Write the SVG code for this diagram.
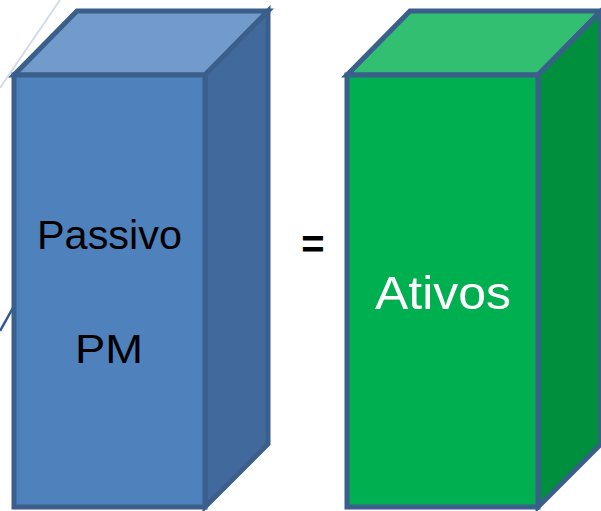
<svg xmlns="http://www.w3.org/2000/svg" width="601" height="511" viewBox="0 0 601 511">
  <style>
    .edge { stroke: #3A5F8B; stroke-width: 5; stroke-linejoin: miter; }
    .lbl { font-family: "Liberation Sans", Arial, sans-serif; text-anchor: middle; }
  </style>
  <rect width="601" height="511" fill="#FFFFFF"/>
  <g id="background">
    <line x1="0" y1="88" x2="60" y2="0" stroke="#D3DBE6" stroke-width="2"/>
    <line x1="0" y1="331" x2="14" y2="306" stroke="#2F5597" stroke-width="2.5"/>
  </g>
  <g id="passivo">
    <polygon class="edge" points="14,75 77,11 268,11 205,75" fill="#729ACA"/>
    <polygon class="edge" points="205,75 268,11 268,444 205,507" fill="#41699B"/>
    <rect class="edge" x="14" y="75" width="191" height="432" fill="#4F81BD"/>
    <text class="lbl" x="109.5" y="249" font-size="40" fill="#000000" textLength="145" lengthAdjust="spacingAndGlyphs">Passivo</text>
    <text class="lbl" x="109" y="363" font-size="40" fill="#000000" textLength="68" lengthAdjust="spacingAndGlyphs">PM</text>
  </g>
  <g id="equals">
    <text class="lbl" x="313" y="258" font-size="40" font-weight="bold" fill="#000000">=</text>
  </g>
  <g id="ativos">
    <polygon class="edge" points="347,75 410,11 601,11 538,75" fill="#33BF72"/>
    <polygon class="edge" points="538,75 601,11 601,444 538,507" fill="#008F3D"/>
    <rect class="edge" x="347" y="75" width="191" height="432" fill="#00B050"/>
    <text class="lbl" x="443" y="309" font-size="47" fill="#FFFFFF" textLength="136" lengthAdjust="spacingAndGlyphs">Ativos</text>
  </g>
</svg>
